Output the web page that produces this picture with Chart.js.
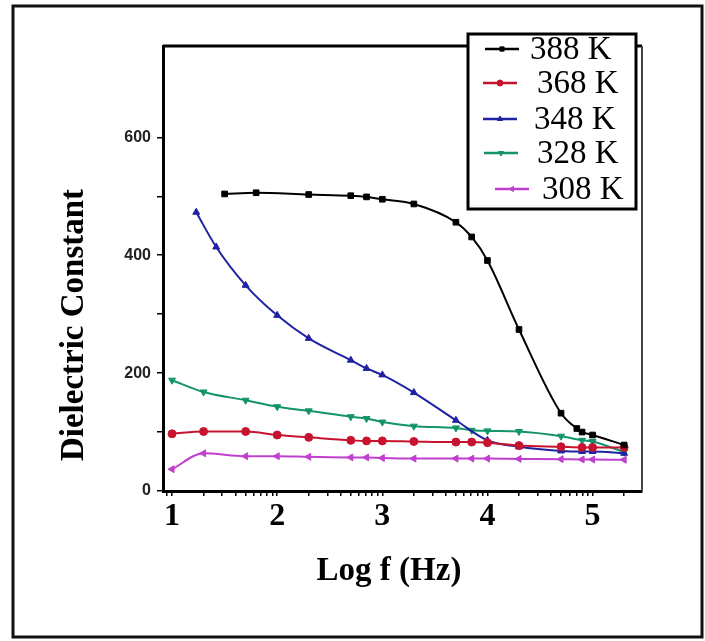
<!DOCTYPE html>
<html>
<head>
<meta charset="utf-8">
<script src="https://cdn.jsdelivr.net/npm/chart.js@4.4.0/dist/chart.umd.min.js"></script>
<style>
    html, body { margin: 0; padding: 0; background: #fff; }
    #wrap { position: relative; width: 705px; height: 641px; }
</style>
</head>
<body>
<div id="wrap"><canvas id="chart" width="705" height="641"></canvas></div>
<script>

// series, in legend order
const series_labels = ["388 K", "368 K", "348 K", "328 K", "308 K"];
const series_colours = ["#000000", "#c8132f", "#1f22a2", "#14946a", "#c13fcf"];
const point_styles = ["rect", "circle", "triangle", "triangle", "triangle"];
const point_rotations = [0, 0, 0, 180, 270];

// log f values
const logf_388 = [1.5, 1.8, 2.3, 2.7, 2.85, 3, 3.3, 3.7, 3.85, 4, 4.3, 4.7, 4.85, 4.9, 5, 5.3];
const logf_348 = [1.23, 1.42, 1.7, 2, 2.3, 2.7, 2.85, 3, 3.3, 3.7, 4, 4.3, 4.7, 4.9, 5, 5.3];
const logf_low = [1, 1.3, 1.7, 2, 2.3, 2.7, 2.85, 3, 3.3, 3.7, 3.85, 4, 4.3, 4.7, 4.9, 5, 5.3];

// dielectric constant
const eps_388 = [504, 506, 503, 501, 499, 495, 487, 456, 431, 391, 274, 132, 106, 100, 95, 78];
const eps_368 = [97, 101, 101, 95, 91, 86, 85, 85, 84, 83, 83, 82, 77, 75, 74, 74, 74];
const eps_348 = [473, 414, 349, 298, 259, 222, 208, 197, 167, 120, 86, 75, 68, 67, 67, 64];
const eps_328 = [188, 168, 154, 143, 136, 126, 123, 117, 110, 107, 103, 102, 101, 93, 86, 84, 66];
const eps_308 = [37, 64, 59, 59, 58, 57, 57, 56, 55, 55, 55, 55, 54.5, 54, 53.5, 53.5, 53];

const x_values = [logf_388, logf_low, logf_348, logf_low, logf_low];
const y_values = [eps_388, eps_368, eps_348, eps_328, eps_308];

const x_tick_labels = [1, 2, 3, 4, 5];
const y_tick_labels = [0, 200, 400, 600];
const y_tick_marks = [0, 100, 200, 300, 400, 500, 600];

const x_title = "Log f (Hz)";
const y_title = "Dielectric Constant";

const serif = '"Liberation Serif", "Times New Roman", serif';

const datasets = series_labels.map((label, i) => ({
    label: label,
    data: x_values[i].map((x, j) => ({x: x, y: y_values[i][j]})),
    borderColor: series_colours[i],
    backgroundColor: series_colours[i],
    pointBackgroundColor: series_colours[i],
    pointBorderColor: series_colours[i],
    pointStyle: point_styles[i],
    pointRotation: point_rotations[i],
    pointRadius: 4,
    pointBorderWidth: 1,
    borderWidth: 2,
    fill: false,
    cubicInterpolationMode: 'monotone'
}));

// frame on top / right and the outer picture border
const framePlugin = {
    id: 'frame',
    beforeDatasetsDraw(chart) {
        const {ctx, chartArea} = chart;
        ctx.save();
        ctx.strokeStyle = '#000';
        ctx.lineWidth = 3;
        ctx.beginPath();
        ctx.moveTo(chartArea.left, chartArea.top);
        ctx.lineTo(chartArea.right, chartArea.top);
        ctx.stroke();
        ctx.strokeStyle = '#444';
        ctx.lineWidth = 2;
        ctx.beginPath();
        ctx.moveTo(chartArea.right, chartArea.top);
        ctx.lineTo(chartArea.right, chartArea.bottom);
        ctx.stroke();
        // outer border of the figure
        ctx.strokeStyle = '#111';
        ctx.lineWidth = 3;
        ctx.strokeRect(13, 6, 689, 631);
        ctx.restore();
    }
};

// axis titles, placed where the original has them (y title sits low)
const axisTitlePlugin = {
    id: 'axisTitles',
    afterDraw(chart) {
        const ctx = chart.ctx;
        ctx.save();
        ctx.fillStyle = '#000';
        ctx.font = 'bold 33px ' + serif;
        ctx.textAlign = 'center';
        ctx.textBaseline = 'middle';
        ctx.fillText(x_title, 389, 571);
        ctx.translate(74, 325);
        ctx.rotate(-Math.PI / 2);
        ctx.fillText(y_title, 0, 0);
        ctx.restore();
    }
};

// boxed legend sitting over the top-right corner
const legend_line_x = [485, 483, 483, 484, 495];
const legend_text_x = [530, 537, 534, 537, 542];
const legend_row_y = [49, 83, 119, 153, 189];

const legendBoxPlugin = {
    id: 'legendBox',
    afterDraw(chart) {
        const ctx = chart.ctx;
        ctx.save();
        ctx.fillStyle = '#fff';
        ctx.fillRect(468, 34, 168, 175);
        ctx.lineWidth = 3;
        ctx.strokeStyle = '#000';
        ctx.strokeRect(468, 34, 168, 175);

        chart.data.datasets.forEach((ds, i) => {
            const y = legend_row_y[i];
            const x0 = legend_line_x[i];
            ctx.strokeStyle = ds.borderColor;
            ctx.fillStyle = ds.borderColor;
            ctx.lineWidth = 2.5;
            ctx.beginPath();
            ctx.moveTo(x0, y);
            ctx.lineTo(x0 + 34, y);
            ctx.stroke();
            ctx.lineWidth = 1;
            Chart.helpers.drawPoint(ctx, {
                pointStyle: ds.pointStyle,
                rotation: ds.pointRotation,
                radius: 3,
                borderWidth: 1
            }, x0 + 17, y);

            ctx.fillStyle = '#000';
            ctx.font = '33px ' + serif;
            ctx.textBaseline = 'middle';
            ctx.textAlign = 'left';
            ctx.fillText(ds.label, legend_text_x[i], y + 1);
        });
        ctx.restore();
    }
};

const config = {
    type: 'line',
    data: { datasets: datasets },
    options: {
        responsive: false,
        animation: false,
        layout: {
            padding: { left: 48, right: 63, top: 46, bottom: 48 }
        },
        plugins: {
            legend: { display: false },
            tooltip: { enabled: false }
        },
        scales: {
            x: {
                type: 'linear',
                min: 0.914,
                max: 5.47,
                afterBuildTicks: (scale) => {
                    // log-style minor ticks inside every decade
                    const ticks = [];
                    for (let n = 0; n <= 5; n++) {
                        for (let k = 1; k <= 9; k++) {
                            const v = n + Math.log10(k);
                            if (v >= scale.min && v <= scale.max) ticks.push({value: v});
                        }
                    }
                    scale.ticks = ticks;
                },
                afterFit: (scale) => { scale.height = 102; },
                grid: {
                    drawOnChartArea: false,
                    drawTicks: true,
                    tickLength: 5,
                    color: '#000',
                    lineWidth: 1.5
                },
                border: { display: true, color: '#000', width: 3 },
                ticks: {
                    autoSkip: false,
                    maxRotation: 0,
                    padding: 2,
                    color: '#000',
                    font: { family: serif, size: 32, weight: 'bold' },
                    callback: (v) => {
                        const r = Math.round(v);
                        return (Math.abs(v - r) < 1e-6 && x_tick_labels.includes(r)) ? String(r) : '';
                    }
                }
            },
            y: {
                min: 0,
                max: 755,
                afterBuildTicks: (scale) => {
                    scale.ticks = y_tick_marks.map(v => ({value: v}));
                },
                afterFit: (scale) => { scale.width = 163 - 48; },
                grid: {
                    drawOnChartArea: false,
                    drawTicks: true,
                    tickLength: 6,
                    color: '#000',
                    lineWidth: 1.5
                },
                border: { display: true, color: '#000', width: 3 },
                ticks: {
                    padding: 6,
                    color: '#222',
                    font: { family: '"Liberation Sans", Arial, sans-serif', size: 16, weight: 'bold' },
                    callback: (v) => y_tick_labels.includes(v) ? String(v) : ''
                }
            }
        }
    },
    plugins: [framePlugin, axisTitlePlugin, legendBoxPlugin]
};

const ctx = document.getElementById('chart').getContext('2d');
const chart = new Chart(ctx, config);

</script>
</body>
</html>
